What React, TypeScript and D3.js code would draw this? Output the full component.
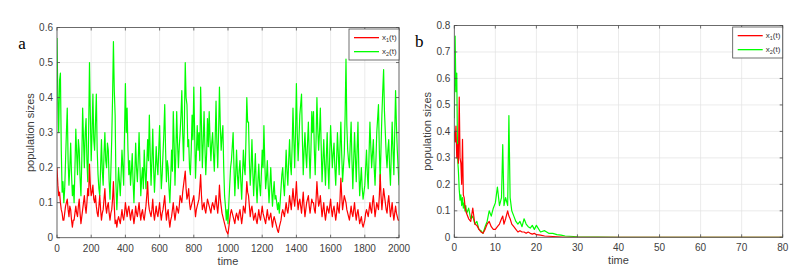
import React from 'react';
import * as d3 from 'd3';

// panel a : sampled every 5 time units, 0..2000
const aStep = 5;
const aX1 = [
  0.20, 0.15, 0.12, 0.13, 0.10, 0.08, 0.07, 0.05, 0.05, 0.07, 0.09, 0.10, 0.11, 0.08, 0.06, 0.09, 0.08, 0.05, 0.03, 0.05,
  0.05, 0.07, 0.09, 0.07, 0.06, 0.09, 0.11, 0.07, 0.04, 0.06, 0.08, 0.10, 0.12, 0.09, 0.07, 0.10, 0.14, 0.12, 0.21, 0.15,
  0.12, 0.13, 0.15, 0.11, 0.10, 0.12, 0.09, 0.07, 0.06, 0.09, 0.12, 0.08, 0.05, 0.07, 0.08, 0.11, 0.14, 0.09, 0.07, 0.09,
  0.10, 0.07, 0.05, 0.07, 0.08, 0.11, 0.16, 0.09, 0.04, 0.05, 0.03, 0.05, 0.06, 0.05, 0.04, 0.06, 0.08, 0.06, 0.05, 0.07,
  0.10, 0.08, 0.06, 0.08, 0.09, 0.07, 0.05, 0.07, 0.08, 0.06, 0.04, 0.06, 0.09, 0.07, 0.06, 0.08, 0.10, 0.07, 0.05, 0.07,
  0.08, 0.06, 0.05, 0.07, 0.09, 0.12, 0.16, 0.10, 0.08, 0.07, 0.06, 0.08, 0.11, 0.07, 0.05, 0.07, 0.09, 0.07, 0.06, 0.08,
  0.10, 0.07, 0.05, 0.07, 0.08, 0.10, 0.12, 0.08, 0.05, 0.07, 0.08, 0.05, 0.03, 0.05, 0.06, 0.08, 0.10, 0.07, 0.05, 0.07,
  0.09, 0.08, 0.07, 0.09, 0.12, 0.11, 0.10, 0.13, 0.15, 0.17, 0.19, 0.14, 0.11, 0.12, 0.14, 0.10, 0.08, 0.09, 0.10, 0.11,
  0.12, 0.09, 0.06, 0.08, 0.09, 0.10, 0.11, 0.14, 0.18, 0.12, 0.08, 0.09, 0.10, 0.08, 0.07, 0.09, 0.11, 0.10, 0.09, 0.08,
  0.07, 0.09, 0.10, 0.09, 0.08, 0.10, 0.12, 0.09, 0.07, 0.10, 0.15, 0.11, 0.09, 0.07, 0.06, 0.05, 0.04, 0.03, 0.02, 0.015,
  0.01, 0.03, 0.05, 0.07, 0.08, 0.07, 0.06, 0.05, 0.04, 0.06, 0.07, 0.06, 0.05, 0.07, 0.08, 0.06, 0.04, 0.06, 0.09, 0.08,
  0.07, 0.11, 0.16, 0.13, 0.12, 0.09, 0.06, 0.08, 0.09, 0.07, 0.05, 0.06, 0.07, 0.05, 0.04, 0.06, 0.08, 0.06, 0.05, 0.07,
  0.09, 0.07, 0.06, 0.05, 0.04, 0.06, 0.08, 0.06, 0.05, 0.06, 0.07, 0.05, 0.03, 0.05, 0.06, 0.05, 0.04, 0.03, 0.02, 0.015,
  0.03, 0.04, 0.05, 0.07, 0.08, 0.07, 0.06, 0.08, 0.10, 0.08, 0.07, 0.09, 0.12, 0.10, 0.08, 0.11, 0.14, 0.11, 0.09, 0.12,
  0.16, 0.11, 0.08, 0.10, 0.11, 0.09, 0.07, 0.10, 0.13, 0.09, 0.06, 0.08, 0.10, 0.11, 0.12, 0.09, 0.07, 0.09, 0.11, 0.10,
  0.10, 0.08, 0.07, 0.11, 0.16, 0.12, 0.09, 0.10, 0.12, 0.09, 0.06, 0.08, 0.10, 0.07, 0.05, 0.07, 0.09, 0.08, 0.07, 0.09,
  0.11, 0.08, 0.06, 0.08, 0.09, 0.07, 0.05, 0.07, 0.10, 0.08, 0.07, 0.11, 0.17, 0.12, 0.08, 0.10, 0.12, 0.11, 0.10, 0.08,
  0.07, 0.06, 0.05, 0.07, 0.09, 0.07, 0.06, 0.08, 0.10, 0.07, 0.05, 0.07, 0.08, 0.06, 0.04, 0.05, 0.06, 0.04, 0.03, 0.04,
  0.05, 0.07, 0.08, 0.07, 0.06, 0.08, 0.10, 0.08, 0.07, 0.10, 0.12, 0.09, 0.06, 0.08, 0.10, 0.09, 0.08, 0.12, 0.18, 0.12,
  0.08, 0.11, 0.14, 0.12, 0.10, 0.08, 0.07, 0.10, 0.12, 0.09, 0.06, 0.08, 0.10, 0.07, 0.05, 0.07, 0.09, 0.07, 0.06, 0.05,
  0.05,
];
const aX2 = [
  0.57, 0.40, 0.30, 0.45, 0.47, 0.25, 0.13, 0.16, 0.10, 0.14, 0.22, 0.30, 0.37, 0.22, 0.15, 0.20, 0.27, 0.18, 0.12, 0.15,
  0.10, 0.20, 0.31, 0.24, 0.18, 0.28, 0.25, 0.17, 0.12, 0.22, 0.37, 0.28, 0.20, 0.30, 0.34, 0.22, 0.16, 0.30, 0.50, 0.35,
  0.22, 0.30, 0.41, 0.28, 0.25, 0.33, 0.41, 0.25, 0.18, 0.14, 0.12, 0.20, 0.28, 0.19, 0.15, 0.24, 0.30, 0.22, 0.20, 0.27,
  0.25, 0.16, 0.11, 0.19, 0.28, 0.40, 0.56, 0.42, 0.35, 0.15, 0.08, 0.14, 0.20, 0.16, 0.12, 0.18, 0.25, 0.20, 0.15, 0.30,
  0.44, 0.30, 0.37, 0.25, 0.18, 0.22, 0.15, 0.19, 0.24, 0.16, 0.10, 0.18, 0.27, 0.20, 0.16, 0.22, 0.30, 0.21, 0.12, 0.17,
  0.20, 0.14, 0.25, 0.19, 0.14, 0.21, 0.28, 0.22, 0.35, 0.24, 0.15, 0.22, 0.31, 0.20, 0.13, 0.19, 0.26, 0.21, 0.18, 0.25,
  0.32, 0.22, 0.14, 0.18, 0.24, 0.30, 0.38, 0.25, 0.16, 0.22, 0.20, 0.14, 0.10, 0.17, 0.25, 0.19, 0.36, 0.27, 0.15, 0.24,
  0.36, 0.27, 0.20, 0.26, 0.30, 0.35, 0.42, 0.30, 0.22, 0.33, 0.50, 0.40, 0.38, 0.26, 0.28, 0.20, 0.18, 0.25, 0.35, 0.28,
  0.43, 0.30, 0.17, 0.24, 0.32, 0.25, 0.30, 0.22, 0.43, 0.32, 0.20, 0.27, 0.36, 0.26, 0.18, 0.24, 0.34, 0.26, 0.36, 0.28,
  0.22, 0.27, 0.30, 0.24, 0.19, 0.28, 0.39, 0.27, 0.20, 0.30, 0.43, 0.32, 0.25, 0.29, 0.32, 0.20, 0.12, 0.09, 0.05, 0.08,
  0.04, 0.10, 0.15, 0.20, 0.22, 0.26, 0.30, 0.20, 0.12, 0.18, 0.25, 0.18, 0.14, 0.19, 0.22, 0.16, 0.11, 0.18, 0.25, 0.20,
  0.18, 0.28, 0.40, 0.33, 0.33, 0.22, 0.15, 0.20, 0.28, 0.19, 0.12, 0.18, 0.24, 0.15, 0.10, 0.16, 0.21, 0.15, 0.12, 0.18,
  0.25, 0.20, 0.32, 0.22, 0.14, 0.17, 0.22, 0.15, 0.10, 0.15, 0.20, 0.14, 0.09, 0.13, 0.16, 0.11, 0.12, 0.10, 0.08, 0.10,
  0.07, 0.10, 0.14, 0.18, 0.20, 0.15, 0.12, 0.18, 0.25, 0.19, 0.15, 0.22, 0.28, 0.21, 0.18, 0.26, 0.37, 0.28, 0.20, 0.30,
  0.44, 0.30, 0.22, 0.28, 0.35, 0.38, 0.41, 0.28, 0.18, 0.25, 0.30, 0.24, 0.20, 0.27, 0.33, 0.24, 0.17, 0.25, 0.36, 0.30,
  0.36, 0.25, 0.18, 0.28, 0.40, 0.31, 0.25, 0.30, 0.37, 0.26, 0.16, 0.22, 0.28, 0.21, 0.15, 0.23, 0.30, 0.20, 0.14, 0.24,
  0.32, 0.26, 0.20, 0.24, 0.27, 0.20, 0.15, 0.22, 0.30, 0.24, 0.18, 0.26, 0.33, 0.24, 0.16, 0.20, 0.24, 0.35, 0.51, 0.32,
  0.25, 0.22, 0.20, 0.27, 0.33, 0.22, 0.14, 0.22, 0.30, 0.23, 0.16, 0.25, 0.33, 0.20, 0.12, 0.16, 0.20, 0.14, 0.11, 0.13,
  0.15, 0.20, 0.25, 0.18, 0.14, 0.24, 0.33, 0.26, 0.20, 0.24, 0.28, 0.20, 0.15, 0.22, 0.30, 0.34, 0.38, 0.25, 0.16, 0.26,
  0.35, 0.42, 0.48, 0.36, 0.30, 0.24, 0.20, 0.25, 0.28, 0.20, 0.15, 0.24, 0.33, 0.25, 0.18, 0.30, 0.42, 0.32, 0.25, 0.20,
  0.15,
];
const aXTicks = [0, 200, 400, 600, 800, 1000, 1200, 1400, 1600, 1800, 2000];
const aYTicks = [0, 0.1, 0.2, 0.3, 0.4, 0.5, 0.6];

// panel b : uneven sample times
const bTime = [
  0, 0.2, 0.4, 0.6, 0.8, 1.0, 1.2, 1.4, 1.6, 1.8,
  2.0, 2.2, 2.4, 2.6, 2.8, 3.0, 3.5, 4.0, 4.5, 5.0,
  5.5, 6.0, 6.5, 7.0, 7.5, 8.0, 8.5, 9.0, 9.5, 10.0,
  10.5, 11.0, 11.5, 11.8, 12.1, 12.5, 13.0, 13.3, 13.6, 14.0,
  14.5, 15, 15.5, 16, 16.5, 17, 17.5, 18, 18.5, 19,
  19.5, 20, 21, 22, 23, 24, 25, 26, 27, 28,
  30, 35, 40, 50, 60, 70, 80,
];
const bX1 = [
  0.40, 0.36, 0.42, 0.30, 0.35, 0.28, 0.53, 0.30, 0.28, 0.20,
  0.37, 0.16, 0.15, 0.12, 0.10, 0.09, 0.07, 0.06, 0.11, 0.05,
  0.045, 0.03, 0.02, 0.015, 0.03, 0.05, 0.06, 0.04, 0.03, 0.03,
  0.04, 0.05, 0.07, 0.08, 0.05, 0.07, 0.10, 0.08, 0.07, 0.05,
  0.04, 0.03, 0.02, 0.025, 0.02, 0.02, 0.015, 0.02, 0.015, 0.012,
  0.015, 0.01, 0.008, 0.005, 0.004, 0.003, 0.002, 0.001, 0, 0,
  0, 0, 0, 0, 0, 0, 0,
];
const bX2 = [
  0.45, 0.76, 0.55, 0.62, 0.30, 0.25, 0.18, 0.14, 0.16, 0.12,
  0.15, 0.11, 0.13, 0.10, 0.12, 0.09, 0.11, 0.07, 0.08, 0.05,
  0.06, 0.03, 0.025, 0.015, 0.04, 0.06, 0.10, 0.08, 0.11, 0.13,
  0.19, 0.12, 0.15, 0.35, 0.12, 0.15, 0.12, 0.46, 0.15, 0.10,
  0.08, 0.06, 0.05, 0.06, 0.04, 0.07, 0.05, 0.04, 0.035, 0.045,
  0.03, 0.045, 0.02, 0.025, 0.015, 0.015, 0.01, 0.008, 0.005, 0.004,
  0.002, 0.001, 0, 0, 0, 0, 0,
];
const bXTicks = [0, 10, 20, 30, 40, 50, 60, 70, 80];
const bYTicks = [0, 0.1, 0.2, 0.3, 0.4, 0.5, 0.6, 0.7, 0.8];

const seriesNames = ['1', '2'];
const seriesColors = ['#ff0000', '#00ff00'];

const sans = 'Liberation Sans, Arial, sans-serif';
const axisColor = '#4d4d4d';

const Panel = ({ id, letter, box, xDomain, yDomain, xTicks, yTicks, time, x1, x2, yFmt }) => {
  const { left, right, top, bottom } = box;
  const x = d3.scaleLinear().domain(xDomain).range([left, right]);
  const y = d3.scaleLinear().domain(yDomain).range([bottom, top]);
  const path = d3.line().x((d) => x(d[0])).y((d) => y(d[1]));
  const p1 = path(time.map((t, i) => [t, x1[i]]));
  const p2 = path(time.map((t, i) => [t, x2[i]]));
  const tk = 3;
  const legW = 50;
  const legX = right - legW;
  const legY = top + 1.5;

  return (
    <g>
      <defs>
        <clipPath id={`clip-${id}`}>
          <rect x={left} y={top} width={right - left} height={bottom - top} />
        </clipPath>
      </defs>
      <rect x={left} y={top} width={right - left} height={bottom - top} fill="#fff" />
      {xTicks.map((t) => (
        <line key={'gx' + t} x1={x(t)} x2={x(t)} y1={top} y2={bottom} stroke="#e3e3e3" strokeWidth={0.7} />
      ))}
      {yTicks.map((t) => (
        <line key={'gy' + t} x1={left} x2={right} y1={y(t)} y2={y(t)} stroke="#e3e3e3" strokeWidth={0.7} />
      ))}
      <g clipPath={`url(#clip-${id})`}>
        <path d={p2} fill="none" stroke={seriesColors[1]} strokeWidth={1.2} strokeLinejoin="round" />
        <path d={p1} fill="none" stroke={seriesColors[0]} strokeWidth={1.2} strokeLinejoin="round" />
      </g>
      <rect x={left} y={top} width={right - left} height={bottom - top} fill="none" stroke={axisColor} strokeWidth={0.8} />
      {xTicks.map((t) => (
        <g key={'tx' + t}>
          <line x1={x(t)} x2={x(t)} y1={bottom} y2={bottom - tk} stroke={axisColor} strokeWidth={0.8} />
          <line x1={x(t)} x2={x(t)} y1={top} y2={top + tk} stroke={axisColor} strokeWidth={0.8} />
          <text x={x(t)} y={bottom + 14} textAnchor="middle" fontSize={10} fontFamily={sans} fill="#404040">
            {t}
          </text>
        </g>
      ))}
      {yTicks.map((t) => (
        <g key={'ty' + t}>
          <line x1={left} x2={left + tk} y1={y(t)} y2={y(t)} stroke={axisColor} strokeWidth={0.8} />
          <line x1={right} x2={right - tk} y1={y(t)} y2={y(t)} stroke={axisColor} strokeWidth={0.8} />
          <text x={left - 4} y={y(t) + 3.5} textAnchor="end" fontSize={10} fontFamily={sans} fill="#404040">
            {yFmt(t)}
          </text>
        </g>
      ))}
      <text x={(left + right) / 2} y={bottom + 27} textAnchor="middle" fontSize={11} fontFamily={sans} fill="#404040">
        time
      </text>
      <text
        transform={`translate(${left - 23},${(top + bottom) / 2}) rotate(-90)`}
        textAnchor="middle"
        fontSize={11}
        fontFamily={sans}
        fill="#404040"
      >
        population sizes
      </text>
      <text x={left - 35} y={top + 21} textAnchor="middle" fontSize={17} fontFamily="Liberation Serif, Times New Roman, serif" fill="#000">
        {letter}
      </text>
      <rect x={legX} y={legY} width={legW} height={31} fill="#fff" stroke={axisColor} strokeWidth={0.8} />
      {seriesNames.map((n, i) => (
        <g key={'lg' + n}>
          <rect x={legX + 5} y={legY + 8 + i * 14} width={25} height={1.3} fill={seriesColors[i]} />
          <text x={legX + 33} y={legY + 11 + i * 14} fontSize={8} fontFamily={sans} fill="#333">
            x<tspan fontSize={5.5} dy={2}>{n}</tspan>
            <tspan dy={-2}>(t)</tspan>
          </text>
        </g>
      ))}
    </g>
  );
};

export default function App() {
  const aTime = aX1.map((_, i) => i * aStep);
  const fmt = (v) => (v === 0 ? '0' : d3.format('.1f')(v));
  return (
    <svg width={809} height={278} style={{ position: 'absolute', left: 0, top: 0, background: '#fff' }}>
      <rect width={809} height={278} fill="#fff" />
      <Panel
        id="a"
        letter="a"
        box={{ left: 57, right: 399, top: 27.5, bottom: 237.7 }}
        xDomain={[0, 2000]}
        yDomain={[0, 0.6]}
        xTicks={aXTicks}
        yTicks={aYTicks}
        time={aTime}
        x1={aX1}
        x2={aX2}
        yFmt={fmt}
      />
      <Panel
        id="b"
        letter="b"
        box={{ left: 454.3, right: 782.7, top: 25.5, bottom: 237.3 }}
        xDomain={[0, 80]}
        yDomain={[0, 0.8]}
        xTicks={bXTicks}
        yTicks={bYTicks}
        time={bTime}
        x1={bX1}
        x2={bX2}
        yFmt={fmt}
      />
    </svg>
  );
}
